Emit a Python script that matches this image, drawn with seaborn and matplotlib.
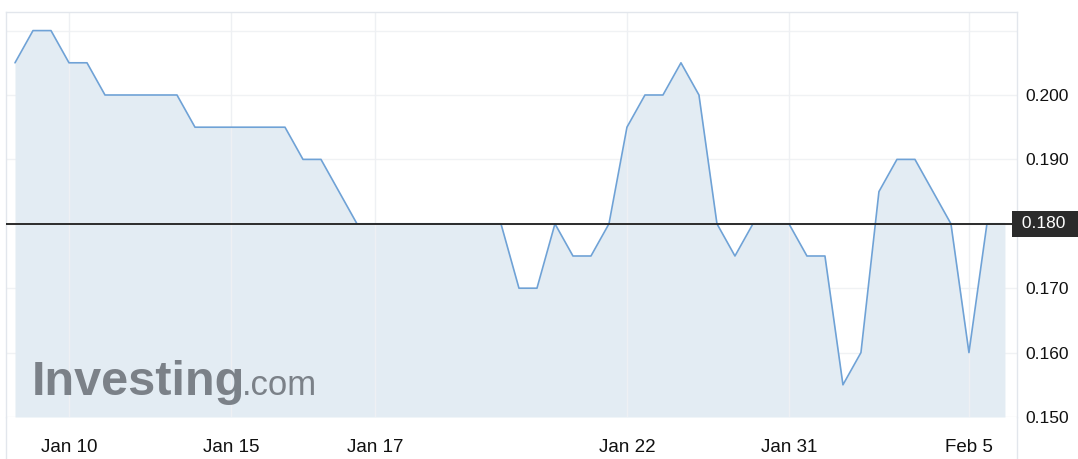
import numpy as np
import pandas as pd
import seaborn as sns
import matplotlib.pyplot as plt
from matplotlib.lines import Line2D

# =========================================================
# Data (daily closes, one per trading session)
# =========================================================
prices = [0.205, 0.210, 0.210, 0.205, 0.205, 0.200, 0.200, 0.200, 0.200, 0.200,
          0.195, 0.195, 0.195, 0.195, 0.195, 0.195, 0.190, 0.190, 0.185, 0.180,
          0.180, 0.180, 0.180, 0.180, 0.180, 0.180, 0.180, 0.180, 0.170, 0.170,
          0.180, 0.175, 0.175, 0.180, 0.195, 0.200, 0.200, 0.205, 0.200, 0.180,
          0.175, 0.180, 0.180, 0.180, 0.175, 0.175, 0.155, 0.160, 0.185, 0.190,
          0.190, 0.185, 0.180, 0.160, 0.180, 0.180]
tick_sessions = [3, 12, 20, 34, 43, 53]
tick_labels = ["Jan 10", "Jan 15", "Jan 17", "Jan 22", "Jan 31", "Feb 5"]
y_ticks = [0.150, 0.160, 0.170, 0.180, 0.190, 0.200, 0.210]
last_price = 0.180

df = pd.DataFrame({"session": np.arange(len(prices)), "price": prices})

# =========================================================
# Style
# =========================================================
sns.set_style("white")
plt.rcParams['font.family'] = ['Liberation Sans', 'DejaVu Sans']

W, H = 1078, 459
fig = plt.figure(figsize=(W / 100, H / 100), dpi=100)
ax = fig.add_axes([6 / W, (H - 417) / H, (1017 - 6) / W, (417 - 12) / H])

line_color = "#6fa2d6"
fill_color = "#e3ecf3"
frame_color = "#e2e6ec"

ax.fill_between(df["session"], df["price"], 0.150, color=fill_color, lw=0, zorder=1)
sns.lineplot(data=df, x="session", y="price", ax=ax, color=line_color, lw=1.2, zorder=3)
ax.axhline(last_price, color="#2b2b2b", lw=1.4, zorder=4)

ax.set_xlim(-0.5, 55.67)
ax.set_ylim(0.150, 0.150 + 405 / 6440)

# grid
for y in y_ticks:
    ax.axhline(y, color="#f0f2f4", lw=1, zorder=0)
for x in tick_sessions:
    ax.axvline(x, color="#eef0f3", lw=1, zorder=2)

ax.set_xticks(tick_sessions, tick_labels)
ax.yaxis.tick_right()
ax.set_yticks(y_ticks, ["" if (abs(v - last_price) < 1e-9 or v > 0.205) else f"{v:.3f}" for v in y_ticks])
ax.tick_params(axis="x", length=0, pad=16, labelsize=13.5, labelcolor="#111111")
ax.tick_params(axis="y", length=0, pad=6, labelsize=12.5, labelcolor="#111111")
ax.set_xlabel("")
ax.set_ylabel("")

for side in ["left", "top", "right"]:
    ax.spines[side].set_color(frame_color)
    ax.spines[side].set_linewidth(1)
ax.spines["bottom"].set_visible(False)

# frame sides run to the bottom edge
fig.add_artist(Line2D([6 / W, 6 / W], [0, (H - 417) / H], color=frame_color, lw=1))
fig.add_artist(Line2D([1017 / W, 1017 / W], [0, (H - 417) / H], color=frame_color, lw=1))

# last price marker
ax.text(1.0, last_price, f" {last_price:.3f}   ", transform=ax.get_yaxis_transform(),
        ha="left", va="center", fontsize=12.5, color="white", zorder=6,
        bbox=dict(boxstyle="square,pad=0.3", fc="#2b2b2b", ec="none"), clip_on=False)

# watermark
fig.text(32 / W, 1 - 395 / H, "Investing", fontsize=35, fontweight="bold",
         color="#7b8188", va="baseline", ha="left")
fig.text(242 / W, 1 - 395 / H, ".com", fontsize=25, color="#7b8188",
         va="baseline", ha="left")

fig.savefig("out.png", dpi=100)
